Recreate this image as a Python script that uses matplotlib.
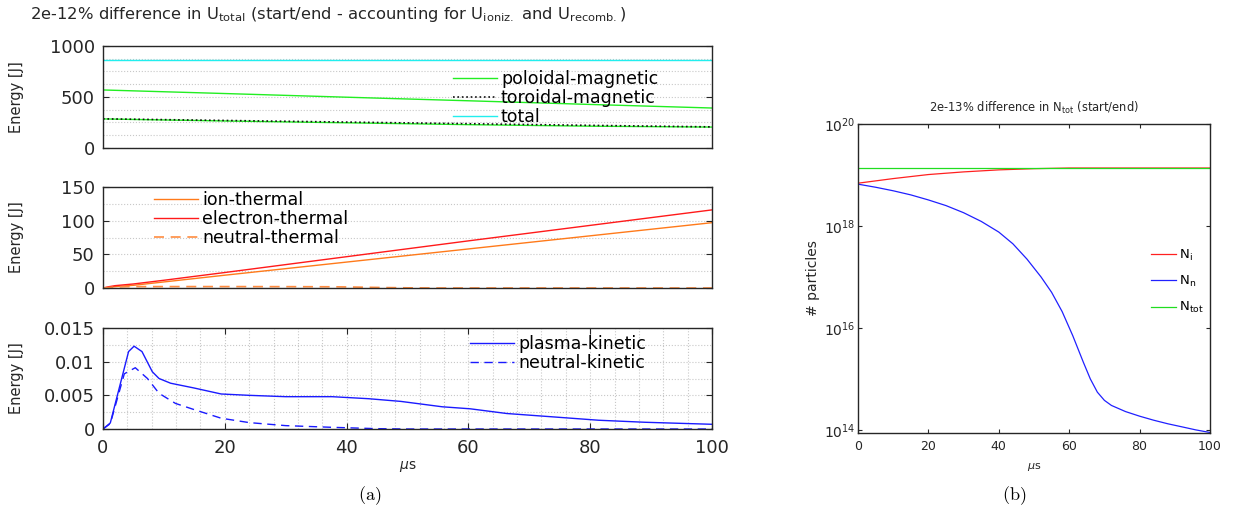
import matplotlib
matplotlib.use("Agg")
import matplotlib.pyplot as plt
from matplotlib.ticker import MultipleLocator, NullLocator

plt.rcParams['font.family'] = ['DejaVu Sans']
plt.rcParams['mathtext.default'] = 'regular'

# =======================
# data
# =======================
# (a) top: magnetic energy [J]
t_mag = [0, 20, 40, 60, 80, 100]
poloidal = [569, 534, 498, 463, 427, 392]
toroidal = [286, 270, 254, 238, 222, 207]
toroidal_green = [285, 265, 247, 229, 214, 205]
total = [863, 863, 863, 863, 863, 863]

# (a) middle: thermal energy [J]
t_th = [0, 1, 2, 5, 10, 20, 40, 60, 80, 100]
ion_th = [0, 1, 2, 4, 9, 19, 38.5, 58, 77.5, 97]
elec_th = [0, 2, 3.5, 6, 11.5, 23, 46.5, 70, 93, 116]
t_nth = [0, 2, 4, 10, 20, 30, 38, 42, 46, 50, 55, 100]
neut_th = [0, 1.4, 2, 2.1, 2.1, 2.0, 1.8, 1.3, 0.7, 0.25, 0, 0]

# (a) bottom: kinetic energy [J]
t_kin = [0, 1.2, 4.2, 5.1, 6.4, 8.1, 9.2, 11.1, 14.9, 19.4, 24, 30, 37.6,
         43.6, 48.9, 55.7, 60.3, 66.3, 73.9, 81.4, 89, 100]
plasma_kin = [0, 0.0009, 0.0115, 0.0123, 0.0115, 0.0085, 0.0075, 0.0068,
              0.0061, 0.0052, 0.0050, 0.0048, 0.0048, 0.0045, 0.0041,
              0.0033, 0.0030, 0.0023, 0.0018, 0.0013, 0.0010, 0.0007]
t_nkin = [0, 1.2, 3.5, 5.3, 7.3, 9.2, 11.9, 14.9, 19.4, 24, 30, 37.6, 45, 50, 100]
neutral_kin = [0, 0.0008, 0.0082, 0.0091, 0.0075, 0.0053, 0.0038, 0.0029,
               0.0016, 0.00095, 0.0005, 0.00025, 0.00005, 0, 0]

# (b) particle numbers
t_n = [0, 5, 10, 15, 20, 25, 30, 35, 40, 44, 48, 52, 55, 58, 61, 64, 66,
       68, 70, 72, 76, 80, 84, 88, 92, 96, 100]
N_n = [6.61e18, 5.75e18, 4.90e18, 4.07e18, 3.24e18, 2.51e18, 1.82e18,
       1.23e18, 7.59e17, 4.47e17, 2.24e17, 1.0e17, 5.0e16, 2.09e16, 7.08e15,
       2.14e15, 1.0e15, 5.5e14, 3.8e14, 3.02e14, 2.29e14, 1.86e14, 1.55e14,
       1.32e14, 1.15e14, 1.0e14, 8.9e13]
t_i = [0, 10, 20, 30, 40, 50, 60, 100]
N_i = [6.9e18, 8.5e18, 1.02e19, 1.15e19, 1.26e19, 1.33e19, 1.37e19, 1.37e19]
t_tot = [0, 100]
N_tot = [1.37e19, 1.37e19]

# =======================
# layout (pixel based)
# =======================
W, H = 1233, 515
fig = plt.figure(figsize=(W / 100, H / 100), dpi=100)


def px_axes(left, top, right, bottom):
    return fig.add_axes([left / W, 1 - bottom / H, (right - left) / W, (bottom - top) / H])


dark = '#262626'
grid_kw = dict(color='#c8c8c8', linestyle=':', linewidth=0.8)


def style_left(ax):
    for s in ax.spines.values():
        s.set_color(dark)
        s.set_linewidth(1.0)
    ax.tick_params(which='major', direction='in', length=4, colors=dark,
                   labelsize=13, left=True, right=True, top=True, bottom=True, pad=6)
    ax.tick_params(which='minor', length=0)
    ax.set_xlim(0, 100)
    ax.xaxis.set_major_locator(MultipleLocator(20))
    ax.set_axisbelow(True)


ax1 = px_axes(103, 46, 712, 148)
ax2 = px_axes(103, 187, 712, 288)
ax3 = px_axes(103, 328, 712, 429)
axr = px_axes(858, 124, 1210, 433)

leg_kw = dict(loc='center left', frameon=False, fontsize=12.5, handlelength=2.5,
              handletextpad=0.25, labelspacing=0.05, borderpad=0, borderaxespad=0)

# ---- top ----
ax1.plot(t_mag, poloidal, color='#22ee22', lw=1.0, label='poloidal-magnetic')
ax1.plot(t_mag, toroidal_green, color='#22ee22', lw=1.0)
ax1.plot(t_mag, toroidal, color='#111111', lw=1.2, ls=':', label='toroidal-magnetic')
ax1.plot(t_mag, total, color='#22eeee', lw=1.0, label='total')
style_left(ax1)
ax1.set_ylim(0, 1000)
ax1.yaxis.set_major_locator(MultipleLocator(500))
ax1.yaxis.set_minor_locator(MultipleLocator(125))
ax1.grid(True, axis='y', which='both', **grid_kw)
ax1.tick_params(axis='x', length=0, labelbottom=False)
ax1.legend(bbox_to_anchor=(0.575, 0.49), **leg_kw)

# ---- middle ----
ax2.plot(t_th, ion_th, color='#ff7a1a', lw=1.0, label='ion-thermal')
ax2.plot(t_th, elec_th, color='#ff1a1a', lw=1.0, label='electron-thermal')
ax2.plot(t_nth, neut_th, color='#ff8c40', lw=1.2, ls=(0, (6, 4)), label='neutral-thermal')
style_left(ax2)
ax2.set_ylim(0, 150)
ax2.yaxis.set_major_locator(MultipleLocator(50))
ax2.yaxis.set_minor_locator(MultipleLocator(25))
ax2.grid(True, axis='y', which='both', **grid_kw)
ax2.tick_params(axis='x', length=0, labelbottom=False)
ax2.legend(bbox_to_anchor=(0.084, 0.683), **leg_kw)

# ---- bottom ----
ax3.plot(t_kin, plasma_kin, color='#1a1aff', lw=1.0, label='plasma-kinetic')
ax3.plot(t_nkin, neutral_kin, color='#1a1aff', lw=1.0, ls=(0, (6, 4)), label='neutral-kinetic')
style_left(ax3)
ax3.set_ylim(0, 0.015)
ax3.set_yticks([0, 0.005, 0.01, 0.015])
ax3.set_yticklabels(['0', '0.005', '0.01', '0.015'])
ax3.yaxis.set_minor_locator(MultipleLocator(0.0025))
ax3.xaxis.set_minor_locator(MultipleLocator(4))
ax3.grid(True, which='both', **grid_kw)
ax3.tick_params(axis='x', pad=7)
ax3.set_xlabel(r'$\mathit{\mu}$s', fontsize=10, color=dark)
ax3.xaxis.set_label_coords(0.5, -0.30)
ax3.legend(bbox_to_anchor=(0.603, 0.748), **leg_kw)

for ax in (ax1, ax2, ax3):
    ax.set_ylabel('Energy [J]', fontsize=10.5, color=dark)
    ax.yaxis.set_label_coords(-0.13, 0.5)

fig.text(30 / W, 1 - 14 / H,
         r'2e-12% difference in U$_{total}$ (start/end - accounting for U$_{ioniz.}$ and U$_{recomb.}$)',
         fontsize=11.8, color=dark, ha='left', va='center')

# ---- (b) particle numbers ----
axr.plot(t_i, N_i, color='#ff2020', lw=0.9, label='N$_i$')
axr.plot(t_n, N_n, color='#2020ff', lw=0.9, label='N$_n$')
axr.plot(t_tot, N_tot, color='#20dd20', lw=0.9, label='N$_{tot}$')
axr.set_yscale('log')
axr.set_xlim(0, 100)
axr.set_ylim(8.7e13, 1e20)
axr.set_yticks([1e14, 1e16, 1e18, 1e20])
axr.yaxis.set_minor_locator(NullLocator())
axr.xaxis.set_major_locator(MultipleLocator(20))
for s in axr.spines.values():
    s.set_color(dark)
    s.set_linewidth(1.0)
axr.tick_params(direction='in', length=3, colors=dark, labelsize=9,
                left=True, right=True, top=True, bottom=True)
axr.tick_params(axis='y', pad=1.5, labelsize=10)
axr.tick_params(axis='x', pad=5)
axr.set_xlabel(r'$\mathit{\mu}$s', fontsize=8, color=dark)
axr.xaxis.set_label_coords(0.5, -0.09)
axr.set_ylabel('# particles', fontsize=10, color=dark)
axr.yaxis.set_label_coords(-0.108, 0.5)
axr.text(0.5, 1 + 16 / 309, r'2e-13% difference in N$_{tot}$ (start/end)',
         transform=axr.transAxes, ha='center', va='center', fontsize=8.3, color=dark)
axr.legend(loc='center left', bbox_to_anchor=(0.832, 0.49), frameon=False,
           fontsize=9.5, handlelength=1.9, handletextpad=0.2, labelspacing=0.85,
           borderpad=0, borderaxespad=0)

# panel captions
fig.text(370 / W, 1 - 496 / H, r'$\mathrm{(a)}$', fontsize=13, ha='center', va='center',
         math_fontfamily='cm', color='black')
fig.text(1014 / W, 1 - 496 / H, r'$\mathrm{(b)}$', fontsize=13, ha='center', va='center',
         math_fontfamily='cm', color='black')

fig.savefig('out.png', dpi=100)
